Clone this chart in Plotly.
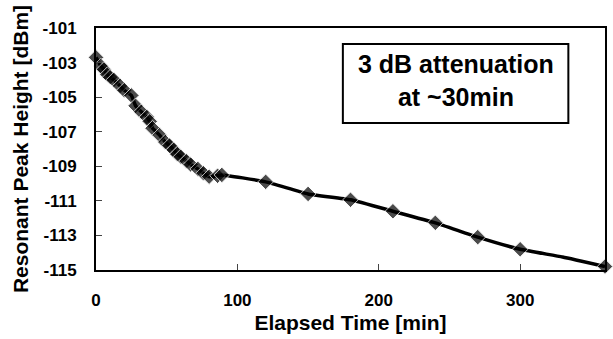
import plotly.graph_objects as go

time_min = [0, 3.5, 5.6, 8, 10, 12.6, 17, 20, 25, 28, 32, 36, 38, 40, 45, 49, 52, 55, 57.5, 60,
            64, 67, 72, 76, 80, 86, 89, 120, 150, 180, 210, 240, 270, 300, 330, 360]
peak_dbm = [-102.7, -103.2, -103.4, -103.7, -103.85, -104.0, -104.35, -104.6, -104.9, -105.5,
            -105.85, -106.15, -106.4, -106.8, -107.2, -107.6, -107.8, -108.05, -108.3, -108.45,
            -108.7, -108.9, -109.15, -109.4, -109.6, -109.55, -109.5, -109.9, -110.6, -110.94,
            -111.6, -112.27, -113.1, -113.8, -114.25, -114.8]
marker_shown = [1] * 34 + [0, 1]

x_ticks = [0, 100, 200, 300]
y_ticks = [-101, -103, -105, -107, -109, -111, -113, -115]

fig = go.Figure()
fig.add_trace(go.Scatter(
    x=time_min, y=peak_dbm, mode="lines+markers",
    line=dict(color="black", width=3.5, shape="spline", smoothing=0.4),
    marker=dict(symbol="diamond", size=[12 if m else 0 for m in marker_shown], color="black"),
    cliponaxis=False, showlegend=False,
))

font_b = "Liberation Sans, Arial, sans-serif"
fig.update_layout(
    width=613, height=339,
    margin=dict(l=96, r=6, t=28, b=69),
    plot_bgcolor="white", paper_bgcolor="white",
    font=dict(family=font_b, color="black"),
    xaxis=dict(range=[0, 360], tickvals=x_ticks, ticktext=[f"<b>{v}</b>" for v in x_ticks],
               ticks="inside", ticklen=6, ticklabelstandoff=14,
               tickwidth=1, showline=True, linecolor="black", linewidth=2, mirror=True,
               showgrid=False, zeroline=False,
               tickfont=dict(size=17, family=font_b, weight="bold"),
               title=dict(text="<b>Elapsed Time [min]</b>", font=dict(size=21), standoff=6)),
    yaxis=dict(range=[-115, -101], tickvals=y_ticks, ticktext=[f"<b>{v}</b>" for v in y_ticks],
               ticks="inside", ticklen=6, ticklabelstandoff=14, tickwidth=1, showline=True,
               linecolor="black", linewidth=2, mirror=True, showgrid=False, zeroline=False,
               tickfont=dict(size=17, family=font_b, weight="bold"),
               title=dict(text="<b>Resonant Peak Height [dBm]</b>", font=dict(size=21), standoff=8)),
    shapes=[dict(type="rect", xref="paper", yref="paper", x0=0.485, x1=0.928, y0=0.607, y1=0.934,
                 line=dict(color="black", width=2), fillcolor="white")],
    annotations=[dict(xref="paper", yref="paper", x=0.7065, y=0.785, xanchor="center",
                      yanchor="middle", showarrow=False,
                      text="<b>3 dB attenuation<br>at ~30min</b>",
                      font=dict(size=25, family=font_b), align="center")],
)
fig.write_html("out.html")
